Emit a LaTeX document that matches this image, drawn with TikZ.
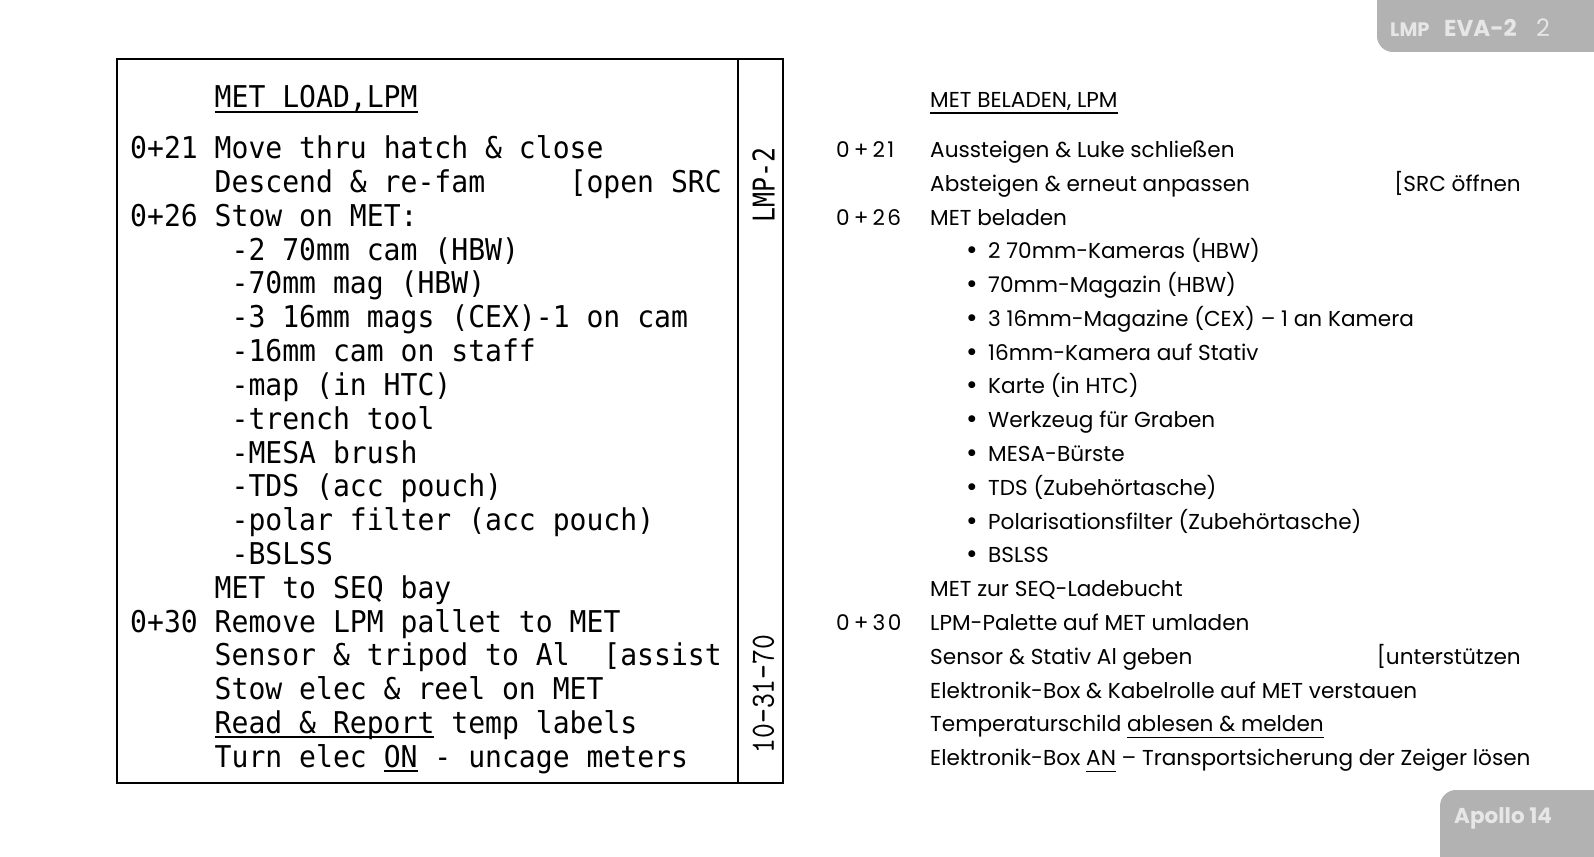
\documentclass[tikz,border=0pt]{standalone}
\usepackage{fontspec}
\newfontfamily\lmpmonofam[FakeStretch=0.936]{DejaVu Sans Mono}
\newfontfamily\lmpsidefam[FakeStretch=0.83]{DejaVu Sans Mono}
\newfontfamily\lmpdatefam[FakeStretch=0.83]{lmmono10-regular.otf}
\newfontfamily\lmpsansfam{Poppins}
\newcommand\lmpmono{\lmpmonofam\fontsize{30}{30}\selectfont}
\newcommand\lmpside{\lmpsidefam\fontsize{30}{30}\selectfont}
\newcommand\lmpdate{\lmpdatefam\fontsize{34}{34}\selectfont}
\newcommand\lmpsans{\lmpsansfam\fontsize{21.6}{21.6}\selectfont}
\newsavebox\lmpulbox
\newcommand\lmpul[3][1.8pt]{\sbox\lmpulbox{#3}\rlap{\rule[-#2]{\wd\lmpulbox}{#1}}\usebox\lmpulbox}
\newcommand\lmptime[4]{#1\kern4pt#2\kern4pt#3\kern2.5pt#4}
\definecolor{tabgray}{HTML}{B2B2B2}
\definecolor{tabtext}{HTML}{E6E6E6}
\tikzset{
  mono/.style={font=\lmpmono, inner sep=0pt, anchor=base west},
  de/.style={font=\lmpsans, inner sep=0pt, anchor=base west},
  bul/.style={font=\lmpsansfam\fontsize{28}{28}\selectfont, inner sep=0pt, anchor=base},
  tabbox/.style={fill=tabgray, draw=none, rounded corners=16pt},
  tabtxt/.style={inner sep=0pt, anchor=base west, text=tabtext},
  frame/.style={draw=black, line width=2pt},
}
\begin{document}
\begin{tikzpicture}[x=1pt,y=-1pt]
\useasboundingbox[fill=white] (0,0) rectangle (1594,856);
% tabs
\fill[tabbox] (1377,-40) -- (1377,52) -- (1640,52) -- (1640,-40) -- cycle;
\fill[tabbox] (1440,900) -- (1440,790) -- (1640,790) -- (1640,900) -- cycle;
\node[tabtxt, font=\lmpsansfam\bfseries\fontsize{19.5}{19.5}\selectfont] (tablmp) at (1390,37) {LMP};
\node[tabtxt, font=\lmpsansfam\bfseries\fontsize{23}{23}\selectfont] (tabeva) at (1444,37) {EVA-2};
\node[tabtxt, font=\lmpsansfam\fontsize{24}{24}\selectfont] (tabpage) at (1536,37) {2};
\node[tabtxt, font=\lmpsansfam\bfseries\fontsize{21.5}{21.5}\selectfont] (tabapollo) at (1454,823) {Apollo 14};
% frame
\draw[frame] (117,59) rectangle (783,783);
\draw[frame] (738,59) -- (738,783);
\node[font=\lmpside, inner sep=0pt, rotate=90] (side1) at (763.5,185) {LMP-2};
\node[font=\lmpdate, inner sep=0pt, rotate=90] (side2) at (763.5,694) {10-31-70};
% left column
\node[mono] (ltitle) at (214.5,108) {\lmpul{4.5pt}{MET LOAD,LPM}};
\node[mono] (l1) at (130,158.5) {0+21 Move thru hatch \& close};
\node[mono] (l2) at (214.5,192.3) {Descend \& re-fam};
\node[mono] (l2b) at (569.4,192.3) {[open SRC};
\node[mono] (l3) at (130,226.2) {0+26 Stow on MET:};
\node[mono] (l4) at (231.4,260.0) {-2 70mm cam (HBW)};
\node[mono] (l5) at (231.4,293.8) {-70mm mag (HBW)};
\node[mono] (l6) at (231.4,327.7) {-3 16mm mags (CEX)-1 on cam};
\node[mono] (l7) at (231.4,361.5) {-16mm cam on staff};
\node[mono] (l8) at (231.4,395.3) {-map (in HTC)};
\node[mono] (l9) at (231.4,429.1) {-trench tool};
\node[mono] (l10) at (231.4,463.0) {-MESA brush};
\node[mono] (l11) at (231.4,496.8) {-TDS (acc pouch)};
\node[mono] (l12) at (231.4,530.6) {-polar filter (acc pouch)};
\node[mono] (l13) at (231.4,564.5) {-BSLSS};
\node[mono] (l14) at (214.5,598.3) {MET to SEQ bay};
\node[mono] (l15) at (130,632.1) {0+30 Remove LPM pallet to MET};
\node[mono] (l16) at (214.5,665.9) {Sensor \& tripod to Al};
\node[mono] (l16b) at (603.2,665.9) {[assist};
\node[mono] (l17) at (214.5,699.8) {Stow elec \& reel on MET};
\node[mono] (l18) at (214.5,733.6) {\lmpul{4.5pt}{Read \& Report} temp labels};
\node[mono] (l19) at (214.5,767.4) {Turn elec \lmpul{4.5pt}{ON} - uncage meters};
% right column
\node[de] (rtitle) at (930,107) {\lmpul[1.5pt]{6.5pt}{MET BELADEN, LPM}};
\node[de] (rt1) at (836,157.5) {\lmptime 0+21};
\node[de] (r1) at (930,157.5) {Aussteigen \& Luke schließen};
\node[de] (r2) at (930,191.3) {Absteigen \& erneut anpassen};
\node[de, anchor=base east] (r2b) at (1521,191.3) {[SRC öffnen};
\node[de] (rt3) at (836,225.1) {\lmptime 0+26};
\node[de] (r3) at (930,225.1) {MET beladen};
\foreach \i/\y/\t in {4/258.8/{2 70mm-Kameras (HBW)},
                      5/292.6/{70mm-Magazin (HBW)},
                      6/326.4/{3 16mm-Magazine (CEX) – 1 an Kamera},
                      7/360.2/{16mm-Kamera auf Stativ},
                      8/393.9/{Karte (in HTC)},
                      9/427.7/{Werkzeug für Graben},
                      10/461.5/{MESA-Bürste},
                      11/495.3/{TDS (Zubehörtasche)},
                      12/529.1/{Polarisationsfilter (Zubehörtasche)},
                      13/562.9/{BSLSS}}{
  \node[bul] (rb\i) at (972,\y+1) {•};
  \node[de] (r\i) at (988,\y) {\t};
}
\node[de] (r14) at (930,596.6) {MET zur SEQ-Ladebucht};
\node[de] (rt15) at (836,630.4) {\lmptime 0+30};
\node[de] (r15) at (930,630.4) {LPM-Palette auf MET umladen};
\node[de] (r16) at (930,664.2) {Sensor \& Stativ Al geben};
\node[de, anchor=base east] (r16b) at (1521,664.2) {[unterstützen};
\node[de] (r17) at (930,698.0) {Elektronik-Box \& Kabelrolle auf MET verstauen};
\node[de] (r18) at (930,731.8) {Temperaturschild \lmpul[1.5pt]{6.5pt}{ablesen \& melden}};
\node[de] (r19) at (930,765.5) {Elektronik-Box \lmpul[1.5pt]{6.5pt}{AN} – Transportsicherung der Zeiger lösen};
\end{tikzpicture}
\end{document}
